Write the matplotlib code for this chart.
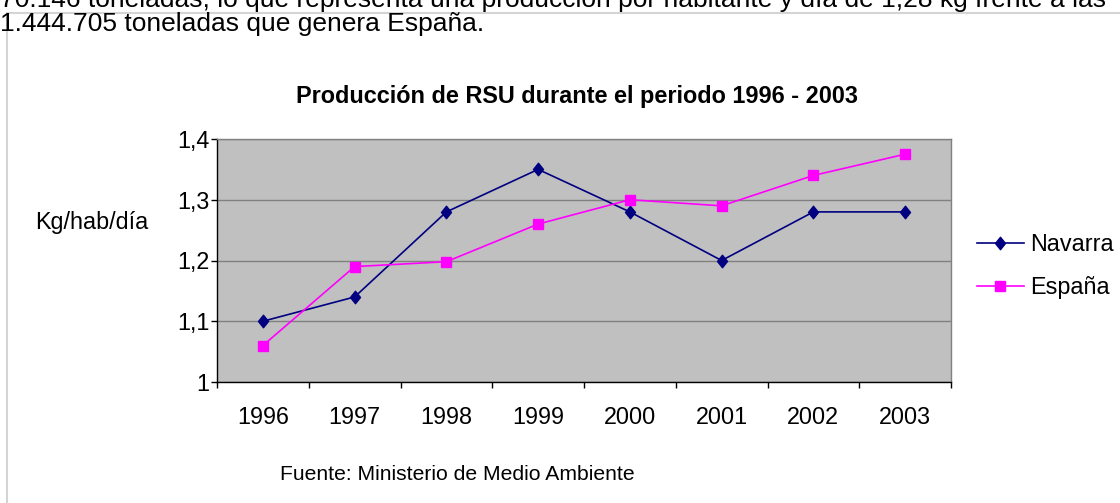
import matplotlib.pyplot as plt
from matplotlib.lines import Line2D
from matplotlib.path import Path

plt.rcParams['font.family'] = ['Liberation Sans', 'DejaVu Sans']

# ---------------- datos ----------------
anios = ['1996', '1997', '1998', '1999', '2000', '2001', '2002', '2003']
navarra = [1.10, 1.14, 1.28, 1.35, 1.28, 1.20, 1.28, 1.28]
espana = [1.06, 1.19, 1.198, 1.26, 1.30, 1.29, 1.34, 1.375]
y_ticks = [1.0, 1.1, 1.2, 1.3, 1.4]

texto_sup = ['70.146 toneladas, lo que representa una producción por habitante y día de 1,28 kg frente a las',
             '1.444.705 toneladas que genera España.']

W, H = 1120, 503
fig = plt.figure(figsize=(W / 100, H / 100), dpi=100)
fig.patch.set_facecolor('white')

# marco del documento
fig.add_artist(Line2D([7 / W, 1.0], [1 - 12.5 / H] * 2, transform=fig.transFigure,
                      color='#d4d4d4', lw=1.5))
fig.add_artist(Line2D([6.5 / W] * 2, [0, 1 - 12.5 / H], transform=fig.transFigure,
                      color='#d4d4d4', lw=1.5))

# texto del documento (la primera línea queda cortada arriba)
fig.text(0.0, 1 - 7 / H, texto_sup[0], fontsize=19, va='baseline', ha='left', zorder=5)
fig.text(0.0, 1 - 31 / H, texto_sup[1], fontsize=19, va='baseline', ha='left', zorder=5)

ax = fig.add_axes([217 / W, 1 - 382 / H, 734 / W, 243 / H])
ax.set_facecolor('#c0c0c0')

x = list(range(len(anios)))

# rombo un poco más alto que ancho
rombo = Path([(0, 1), (0.8, 0), (0, -1), (-0.8, 0), (0, 1)],
             [Path.MOVETO, Path.LINETO, Path.LINETO, Path.LINETO, Path.CLOSEPOLY])

ax.plot(x, navarra, color='#000080', lw=1.2, marker=rombo, markersize=9,
        label='Navarra', zorder=4)
ax.plot(x, espana, color='#ff00ff', lw=1.2, marker='s', markersize=7.7,
        label='España', zorder=4)

ax.set_xlim(-0.5, len(anios) - 0.5)
ax.set_ylim(y_ticks[0], y_ticks[-1])

ax.set_yticks(y_ticks)
ax.set_yticklabels([('%g' % v).replace('.', ',') for v in y_ticks], fontsize=16.8)
ax.yaxis.grid(True, color='#808080', lw=1.0)
ax.set_axisbelow(True)

# marcas entre categorías, etiquetas centradas en cada categoría
ax.set_xticks([i - 0.5 for i in range(len(anios) + 1)])
ax.set_xticklabels([])
ax.set_xticks(x, minor=True)
ax.set_xticklabels(anios, minor=True, fontsize=16.8)
ax.tick_params(axis='x', which='major', length=4.3, width=1, color='black', direction='out')
ax.tick_params(axis='x', which='minor', length=0, pad=17)
ax.tick_params(axis='y', length=4.3, width=1, color='black', direction='out', pad=1)

for lado in ['top', 'right']:
    ax.spines[lado].set_color('#808080')
    ax.spines[lado].set_linewidth(1.0)
for lado in ['left', 'bottom']:
    ax.spines[lado].set_color('black')
    ax.spines[lado].set_linewidth(1.0)

fig.text(577 / W, 1 - 103 / H, 'Producción de RSU durante el periodo 1996 - 2003',
         fontsize=16.9, fontweight='bold', ha='center', va='baseline')
fig.text(35 / W, 1 - 222 / H, 'Kg/hab/día', fontsize=16.8, ha='left', va='center')
fig.text(280 / W, 1 - 475 / H, 'Fuente: Ministerio de Medio Ambiente',
         fontsize=15.2, ha='left', va='center')

fig.legend(loc='center left', bbox_to_anchor=(977 / W, 1 - 266 / H),
           frameon=False, fontsize=16.8, handlelength=2.0, handletextpad=0.26,
           labelspacing=0.85, borderpad=0, borderaxespad=0)

fig.savefig('out.png', dpi=100)
